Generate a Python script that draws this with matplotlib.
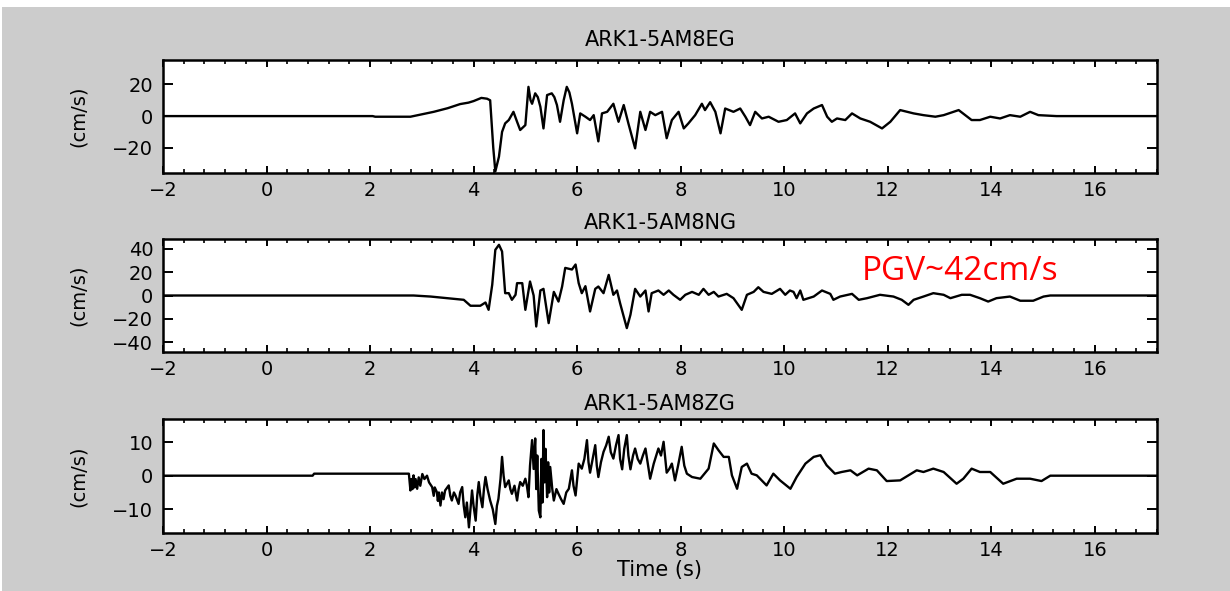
import matplotlib.pyplot as plt
from matplotlib.patches import Rectangle
from matplotlib.ticker import MultipleLocator

plt.rcParams['font.family'] = ['DejaVu Sans']

# station / component names
titles = ['ARK1-5AM8EG', 'ARK1-5AM8NG', 'ARK1-5AM8ZG']

# EW component (cm/s)
t_e = [-2.0, 2.05, 2.1, 2.78, 3.23, 3.50, 3.74, 3.90, 4.00, 4.15, 4.26, 4.32, 4.38, 4.42, 4.49,
       4.55, 4.61, 4.68, 4.77, 4.84, 4.90, 5.00, 5.06, 5.10, 5.13, 5.19, 5.24, 5.29, 5.35, 5.42,
       5.51, 5.56, 5.61, 5.67, 5.74, 5.80, 5.85, 5.90, 6.00, 6.06, 6.16, 6.25, 6.32, 6.41, 6.48,
       6.58, 6.70, 6.80, 6.90, 6.99, 7.12, 7.22, 7.32, 7.41, 7.51, 7.64, 7.73, 7.83, 7.96, 8.06,
       8.15, 8.28, 8.41, 8.47, 8.57, 8.67, 8.77, 8.86, 9.02, 9.15, 9.25, 9.34, 9.44, 9.57, 9.70,
       9.89, 10.05, 10.21, 10.31, 10.44, 10.57, 10.73, 10.83, 10.92, 11.02, 11.18, 11.31, 11.47,
       11.66, 11.89, 12.05, 12.24, 12.50, 12.69, 12.92, 13.08, 13.37, 13.62, 13.78, 13.98, 14.17,
       14.36, 14.56, 14.75, 14.91, 15.26, 17.2]
v_e = [0, 0, -0.4, -0.4, 2.7, 5.0, 7.6, 8.5, 9.5, 11.5, 11, 10, -20, -35, -25.7,
       -10, -4.6, -2.5, 2.7, -3.6, -8.8, -5.7, 18.5, 10, 7.8, 14.4, 12, 5.9, -7.8, 13.3,
       14.4, 12, 7, -3.6, 10, 18.5, 15, 7.8, -10.9, 1.7, -0.4, -2.5, 0.6, -16, 1.7,
       2.7, 7.8, -3.6, 7, -4.6, -20.4, 2.7, -8.8, 2.7, 0.6, 2.7, -14, -2.5, 2.7, -7.8,
       -4.6, 0.6, 7.8, 3.8, 8.8, 2.7, -10.9, 4.8, 2.7, 4.8, -0.4, -5.7, 2.7, -1.5, -0.4,
       -3.6, -2.5, 1.7, -4.6, 1.7, 4.8, 7, -0.4, -3.6, -1.5, -2.5, 1.7, -1.5,
       -3.6, -7.8, -3.6, 3.8, 1.7, 0.6, -0.4, 0.6, 3.8, -2.5, -2.5, -0.4, -1.5,
       0.6, -0.4, 2.7, 0.6, 0, 0]

# NS component
t_n = [-2.0, 2.84, 3.17, 3.49, 3.81, 3.94, 4.13, 4.23, 4.29, 4.36, 4.42, 4.49, 4.55, 4.61, 4.68,
       4.74, 4.81, 4.84, 4.94, 5.00, 5.09, 5.16, 5.21, 5.29, 5.35, 5.45, 5.55, 5.64, 5.71, 5.77,
       5.90, 5.97, 6.03, 6.09, 6.16, 6.25, 6.35, 6.41, 6.51, 6.61, 6.70, 6.77, 6.83, 6.96, 7.03,
       7.12, 7.22, 7.32, 7.38, 7.44, 7.57, 7.67, 7.77, 7.86, 7.99, 8.09, 8.22, 8.35, 8.44, 8.54,
       8.64, 8.73, 8.89, 9.02, 9.18, 9.28, 9.41, 9.50, 9.60, 9.76, 9.92, 10.02, 10.11, 10.18,
       10.24, 10.31, 10.37, 10.57, 10.73, 10.89, 10.95, 11.08, 11.31, 11.44, 11.60, 11.85, 12.11,
       12.27, 12.40, 12.50, 12.69, 12.88, 13.08, 13.21, 13.43, 13.59, 13.78, 13.94, 14.10, 14.36,
       14.56, 14.81, 15.01, 15.14, 17.2]
v_n = [0, 0, -0.9, -2.3, -3.7, -8.8, -8.8, -6, -12.3, 9.2, 39.2, 43.5, 37.8, 2, 2,
       -3.7, 0.6, 10.6, 10.6, -12.3, 12, 0, -26.6, 4.3, 5.7, -23.7, 3.1, -5.2, 7.7, 23.7,
       22.3, 26.6, 10.6, 2, 8, -13.7, 5.7, 7.7, 2, 17.7, 0.6, 4.3, -6.6, -28, -16.5,
       5.7, -0.9, 4.3, -13.7, 2, 4.3, 0.6, 4.3, 0.6, -3.7, 0.6, 3.1, 0.6, 5.7, 0.6,
       3.1, -0.9, 1.4, -2.3, -12.3, 0.6, 3.1, 7.1, 3.1, 1.4, 5.7, 0.6, 4.3, 3.1,
       -2.3, 4.3, -3.7, -0.9, 4.3, 1.4, -3.7, -0.9, 1.4, -3.7, -2.3, 0.6, -0.9,
       -3.7, -8, -3.7, -0.9, 2, 0.6, -2.3, 0.6, 0.6, -2.3, -5.2, -2.3, -0.9,
       -4.5, -4.5, -0.9, 0, 0]

# vertical component
t_z = [-2.0, 0.89, 0.92, 2.75, 2.78, 2.80, 2.82, 2.84, 2.86, 2.88,
       2.91, 2.94, 2.97, 3.01, 3.05, 3.10, 3.14, 3.20, 3.23, 3.25,
       3.29, 3.31, 3.33, 3.36, 3.39, 3.42, 3.45, 3.52, 3.55, 3.58,
       3.62, 3.65, 3.71, 3.74, 3.78, 3.81, 3.84, 3.87, 3.91, 3.94,
       3.97, 4.00, 4.04, 4.07, 4.10, 4.13, 4.17, 4.20, 4.23, 4.27,
       4.32, 4.37, 4.42, 4.45, 4.48, 4.52, 4.55, 4.58, 4.61, 4.68,
       4.71, 4.74, 4.79, 4.84, 4.87, 4.90, 4.95, 5.00, 5.03, 5.06,
       5.09, 5.13, 5.16, 5.19, 5.21, 5.23, 5.26, 5.29, 5.31, 5.33,
       5.35, 5.37, 5.39, 5.42, 5.44, 5.46, 5.48, 5.52, 5.55, 5.60,
       5.64, 5.69, 5.74, 5.79, 5.84, 5.90, 5.93, 5.97, 6.03, 6.09,
       6.14, 6.19, 6.22, 6.25, 6.30, 6.35, 6.38, 6.41, 6.46, 6.51,
       6.56, 6.61, 6.65, 6.70, 6.75, 6.80, 6.83, 6.87, 6.91, 6.96,
       6.99, 7.03, 7.08, 7.12, 7.17, 7.22, 7.27, 7.32, 7.37, 7.41,
       7.48, 7.57, 7.62, 7.67, 7.73, 7.78, 7.83, 7.89, 7.95, 8.02,
       8.07, 8.12, 8.22, 8.38, 8.54, 8.64, 8.73, 8.83, 8.93, 8.99,
       9.09, 9.18, 9.28, 9.37, 9.47, 9.66, 9.79, 9.92, 10.12, 10.24,
       10.41, 10.57, 10.70, 10.82, 10.98, 11.11, 11.28, 11.41, 11.63, 11.79,
       11.98, 12.24, 12.56, 12.69, 12.88, 13.08, 13.33, 13.46, 13.62, 13.78,
       13.98, 14.23, 14.49, 14.75, 14.97, 15.14, 17.2]
v_z = [0, 0, 0.6, 0.6, -4.4, -1, -4, 0.1, -3.5, -1,
       -3.9, -0.5, -3, 0.5, -1, 0, -2, -3.4, -6, -3.5,
       -4.9, -7.5, -5, -8.9, -5, -7, -4.4, -2.9, -6, -7.4,
       -5, -5.9, -8.4, -5, -3.4, -9, -12.4, -8, -15.4, -10,
       -4.4, -9, -13.4, -6, -1.9, -6, -9.4, -4, -0.4, -4,
       -7.4, -10, -14.4, -9, -6.9, -1, 5.6, 0, -3.4, -1.4,
       -4, -5.4, -3, -7.4, -4, -1.9, -3, -0.9, -3, -6.4,
       3, 10.6, 2, 11.1, -4, 6, -10.4, -12.4, 5, -8,
       13.6, -2, 8, -6.4, 4, -5, 2.6, -4, -7.4, -4,
       -5.4, -7, -8.4, -5, -3.9, 1.6, -3, -5.9, 3.6, 2.1,
       5, 10.6, 4, 0.9, 5, 9.1, 3, -0.4, 4, 7.1,
       9, 11.6, 7, 5.1, 9, 12.1, 5, 1.9, 8, 12.1,
       6, 1.9, 6, 8.1, 5, 3.6, 6, 8.1, 3, -0.9,
       3.6, 8.1, 6, 10.1, 0.9, 2, 3.6, -1.4, 3, 8.6,
       3, 0.6, -0.4, -0.9, 2.1, 9.6, 7.6, 5.6, 5.6, 0.1,
       -3.9, 2.6, 3.6, 0.6, 0.1, -2.9, 0.6, -1.4, -3.9, -0.4,
       3.6, 5.6, 6.1, 3.1, 0.6, 1.1, 1.6, 0.1, 2.1, 1.6,
       -1.6, -1.4, 1.6, 1.1, 2.1, 1.1, -2.4, -0.9, 2.1, 1.1,
       1.1, -2.4, -0.9, -0.9, -1.6, 0, 0]

yticks = [[-20, 0, 20], [-40, -20, 0, 20, 40], [-10, 0, 10]]
ylims = [(-36, 35.5), (-48.5, 48.5), (-17, 16.8)]
xticks = [-2, 0, 2, 4, 6, 8, 10, 12, 14, 16]

fig = plt.figure(figsize=(12.3, 5.91), dpi=100, facecolor='white')
fig.patches.append(Rectangle((2 / 1230, 0), 1, 1 - 7 / 591, transform=fig.transFigure,
                             facecolor='#cccccc', edgecolor='none', zorder=-10))

rects = [[0.1325, 0.7073, 0.8081, 0.1912],
         [0.1325, 0.4044, 0.8081, 0.1912],
         [0.1325, 0.0986, 0.8081, 0.1919]]
pads = [10, 7, 6.5]
traces = [(t_e, v_e), (t_n, v_n), (t_z, v_z)]

for i, (t, v) in enumerate(traces):
    ax = fig.add_axes(rects[i])
    ax.plot(t, v, color='black', lw=1.7)
    ax.set_xlim(-2, 17.2)
    ax.set_ylim(*ylims[i])
    ax.set_xticks(xticks)
    ax.set_yticks(yticks[i])
    ax.xaxis.set_minor_locator(MultipleLocator(0.4))
    ax.tick_params(axis='x', which='major', direction='in', length=5, width=1.4,
                   top=True, labelsize=14, pad=6)
    ax.tick_params(axis='x', which='minor', direction='in', length=3, width=1.2, top=True)
    ax.tick_params(axis='y', which='major', direction='in', length=7, width=1.4,
                   right=True, labelsize=14, pad=7)
    for s in ax.spines.values():
        s.set_linewidth(1.8)
    ax.set_title(titles[i], fontsize=15, pad=pads[i])
    ax.set_ylabel('(cm/s)', fontsize=14)
    ax.yaxis.set_label_coords(-0.076, 0.5)
    if i == 2:
        ax.set_xlabel('Time (s)', fontsize=15, labelpad=0)

fig.text(862 / 1230, 1 - 272 / 591, 'PGV~42cm/s', color='red', fontsize=24,
         family=['Open Sans', 'DejaVu Sans'], ha='left', va='center')

fig.savefig('out.png', dpi=100, facecolor=fig.get_facecolor())
